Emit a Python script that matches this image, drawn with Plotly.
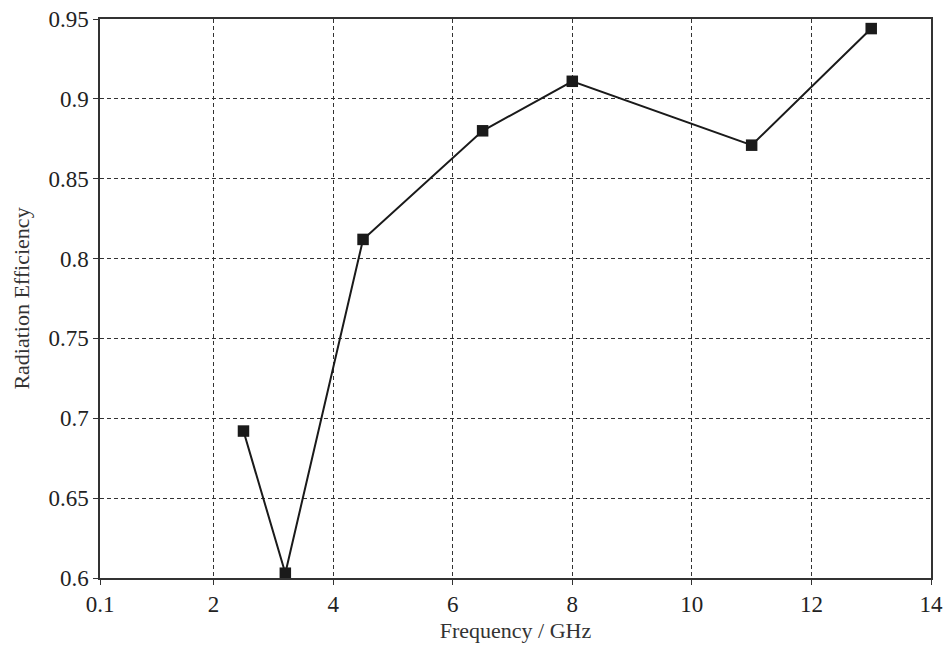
import plotly.graph_objects as go

# Radiation efficiency measured at each frequency
freq_ghz = [2.5, 3.2, 4.5, 6.5, 8.0, 11.0, 13.0]
efficiency = [0.692, 0.603, 0.812, 0.880, 0.911, 0.871, 0.944]

x_ticks = [0.1, 2, 4, 6, 8, 10, 12, 14]
x_tick_text = ["0.1", "2", "4", "6", "8", "10", "12", "14"]
y_ticks = [0.6, 0.65, 0.7, 0.75, 0.8, 0.85, 0.9, 0.95]
y_tick_text = ["0.6", "0.65", "0.7", "0.75", "0.8", "0.85", "0.9", "0.95"]

serif = "Liberation Serif, Times New Roman, serif"

fig = go.Figure(
    go.Scatter(
        x=freq_ghz,
        y=efficiency,
        mode="lines+markers",
        line=dict(color="#1a1a1a", width=2),
        marker=dict(symbol="square", size=11.5, color="#1a1a1a"),
        showlegend=False,
    )
)

axis_common = dict(
    automargin=False,
    showgrid=True,
    gridcolor="#333333",
    gridwidth=1,
    griddash="4px,3px",
    showline=True,
    linecolor="#333333",
    linewidth=1.5,
    mirror=True,
    ticks="outside",
    ticklen=5,
    tickwidth=1.2,
    tickcolor="#333333",
    zeroline=False,
    tickfont=dict(family=serif, size=23, color="#222222"),
)

fig.update_xaxes(
    range=[0.1, 14],
    tickvals=x_ticks,
    ticktext=x_tick_text,
    title=dict(text="Frequency / GHz", font=dict(family=serif, size=22, color="#333333"), standoff=6),
    **axis_common,
)
fig.update_yaxes(
    range=[0.6, 0.95],
    tickvals=y_ticks,
    ticktext=y_tick_text,
    title=dict(text="Radiation Efficiency", font=dict(family=serif, size=22, color="#333333"), standoff=13),
    **axis_common,
)

fig.update_layout(
    width=946,
    height=648,
    margin=dict(l=100, r=15, t=19, b=70),
    paper_bgcolor="white",
    plot_bgcolor="white",
)

fig.write_html("out.html")
